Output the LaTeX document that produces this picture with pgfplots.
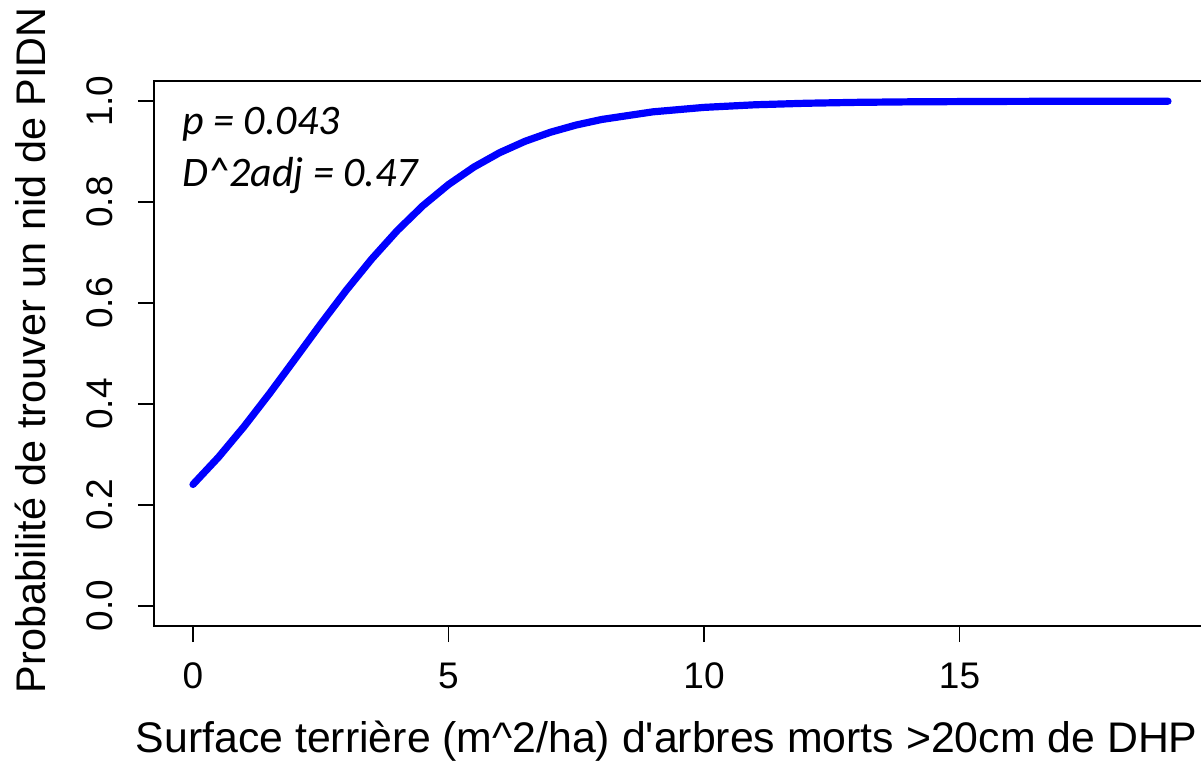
\documentclass[border=0pt]{standalone}
\usepackage{fontspec}
\setmainfont{Liberation Sans}
\newfontfamily\carlito{Carlito}
\usepackage{pgfplots}
\pgfplotsset{compat=1.18}
\begin{document}
\begin{tikzpicture}
\useasboundingbox (-77pt,-68pt) rectangle (523.5pt,313pt);
\begin{axis}[
  scale only axis, width=526.5pt, height=272.5pt,
  xmin=-0.763, xmax=19.843, ymin=-0.04, ymax=1.04,
  xtick={0,5,10,15}, ytick={0,0.2,0.4,0.6,0.8,1.0},
  tick align=outside, major tick length=8pt,
  xtick pos=bottom, ytick pos=left,
  axis line style={line width=0.75pt, black},
  every tick/.style={black, line width=0.75pt},
  /pgf/number format/assume math mode=true,
  tick label style={font=\fontsize{18.5}{21}\selectfont},
  yticklabel style={rotate=90, anchor=south, /pgf/number format/.cd, fixed, fixed zerofill, precision=1},
  yticklabel shift=9pt,
  xticklabel shift=7pt,
  xlabel={Surface terrière (m\textasciicircum 2/ha) d\textquotesingle arbres morts >20cm de DHP},
  ylabel={Probabilité de trouver un nid de PIDN},
  xlabel style={at={(rel axis cs:0.487,-0.233)}, anchor=base, font=\fontsize{21.4}{24}\selectfont},
  ylabel style={at={(rel axis cs:-0.1026,0.506)}, anchor=base, font=\fontsize{20.7}{24}\selectfont},
  clip=false,
]
\addplot[color={rgb,255:red,0;green,0;blue,255}, line width=3.6pt, line cap=round, line join=round] coordinates {
(0,0.2405) (0.5,0.2946) (1,0.3553) (1.5,0.4209) (2,0.4895) (2.5,0.5585)
(3,0.6253) (3.5,0.6876) (4,0.7438) (4.5,0.7930) (5,0.8348) (5.5,0.8696)
(6,0.8979) (6.5,0.9206) (7,0.9386) (7.5,0.9528) (8,0.9638) (9,0.9789)
(10,0.9877) (11,0.9929) (12,0.9959) (13,0.9977) (14,0.9987) (15,0.9992)
(16,0.9996) (17,0.9998) (18,0.9999) (19.08,0.99995)
};
\node[anchor=base west, inner sep=0pt, font=\carlito\itshape\fontsize{21}{24}\selectfont] at (axis cs:-0.215,0.934) {p = 0.043};
\node[anchor=base west, inner sep=0pt, font=\carlito\itshape\fontsize{21}{24}\selectfont] at (axis cs:-0.215,0.831) {D\textasciicircum 2adj = 0.47};
\end{axis}
\end{tikzpicture}
\end{document}
